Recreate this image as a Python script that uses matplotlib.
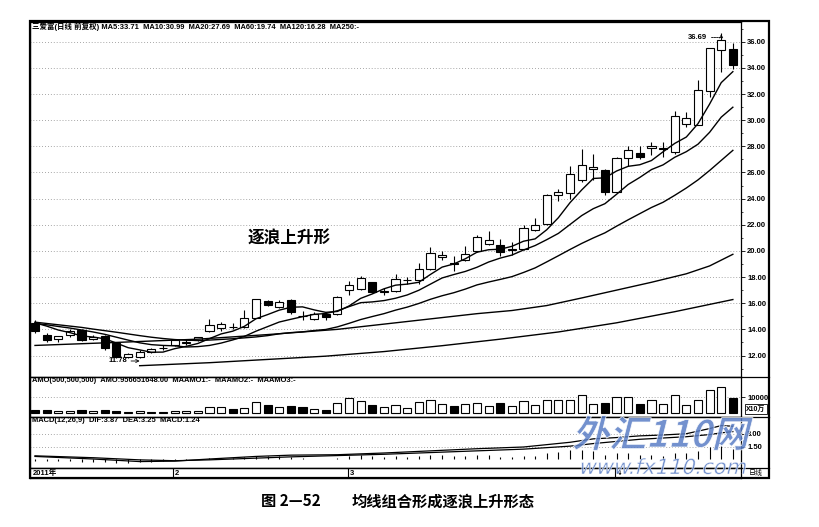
import matplotlib
matplotlib.use("Agg")
import matplotlib.pyplot as plt
import matplotlib.transforms as mtransforms
from matplotlib.lines import Line2D
from matplotlib.patches import Rectangle, PathPatch
from matplotlib.textpath import TextPath
from matplotlib.font_manager import FontProperties
import numpy as np

plt.rcParams['font.family'] = ['Liberation Sans', 'Noto Sans CJK SC', 'DejaVu Sans']

# daily candles (open, high, low, close)
opens = [14.46, 13.60, 13.23, 13.54, 13.92, 13.23, 13.46, 12.92, 11.85, 11.92,
         12.23, 12.55, 12.77, 12.95, 13.15, 13.85, 14.08, 14.20, 14.15, 14.90,
         16.15, 15.70, 16.23, 15.05, 14.80, 15.20, 15.15, 17.00, 17.10, 17.60,
         16.85, 16.90, 17.75, 17.77, 18.60, 19.50, 19.05, 19.30, 20.00, 20.50,
         20.46, 20.10, 20.15, 21.60, 22.08, 24.30, 24.40, 25.40, 26.30, 26.15,
         24.54, 27.10, 27.50, 27.85, 27.80, 27.54, 29.70, 29.60, 32.20, 35.40, 35.46]
highs = [14.70, 13.75, 13.50, 14.00, 14.00, 13.60, 13.55, 13.00, 12.20, 12.45,
         12.55, 12.80, 13.30, 13.25, 13.45, 14.77, 14.60, 14.50, 15.46, 16.35,
         16.25, 16.25, 16.30, 15.40, 15.30, 15.30, 16.55, 17.70, 18.10, 17.65,
         17.20, 18.20, 18.00, 19.10, 20.30, 20.00, 19.60, 20.40, 21.20, 21.50,
         20.90, 20.70, 22.00, 22.50, 24.35, 24.70, 26.50, 27.80, 27.40, 26.30,
         27.15, 28.00, 28.00, 28.30, 28.30, 30.70, 30.60, 33.10, 35.50, 36.69, 35.90]
lows = [13.70, 13.00, 13.00, 13.40, 13.10, 13.20, 12.45, 11.82, 11.80, 11.78,
        12.20, 12.40, 12.70, 12.80, 13.10, 13.80, 13.90, 14.00, 14.10, 14.85,
        15.80, 15.65, 15.20, 14.70, 14.70, 14.70, 15.10, 16.60, 17.00, 16.80,
        16.60, 16.85, 17.50, 17.50, 18.55, 19.30, 18.50, 19.20, 19.90, 20.45,
        19.60, 19.70, 20.10, 21.55, 22.00, 23.80, 24.00, 25.30, 25.40, 24.30,
        24.50, 26.50, 27.00, 27.30, 27.20, 27.40, 29.50, 29.60, 31.80, 33.70, 33.90]
closes = [13.85, 13.20, 13.46, 13.85, 13.15, 13.38, 12.54, 11.85, 12.10, 12.30,
          12.46, 12.60, 13.15, 13.00, 13.38, 14.30, 14.40, 14.15, 14.85, 16.30,
          15.90, 16.08, 15.30, 15.00, 15.15, 14.95, 16.46, 17.40, 17.90, 16.85,
          16.90, 17.85, 17.80, 18.60, 19.85, 19.70, 19.00, 19.80, 21.10, 20.80,
          19.90, 20.15, 21.77, 22.00, 24.30, 24.50, 25.90, 26.60, 26.40, 24.54,
          27.10, 27.70, 27.20, 28.00, 27.90, 30.30, 30.15, 32.30, 35.50, 36.10, 34.23]

# moving averages as drawn on the chart
ma5 = [14.50, 14.25, 13.95, 13.75, 13.50, 13.41, 13.28, 12.95, 12.60, 12.43,
       12.25, 12.26, 12.52, 12.70, 12.92, 13.29, 13.65, 13.86, 14.23, 14.81,
       15.13, 15.47, 15.69, 15.72, 15.49, 15.30, 15.37, 15.79, 16.37, 16.71,
       17.10, 17.38, 17.46, 17.60, 18.20, 18.76, 19.00, 19.40, 19.90, 20.09,
       20.13, 20.35, 20.74, 20.92, 21.62, 22.54, 23.69, 24.66, 25.54, 25.59,
       26.11, 26.47, 26.59, 26.91, 27.58, 28.22, 28.71, 29.73, 31.23, 32.87, 33.71]
ma10 = [14.45, 14.35, 14.22, 14.10, 13.95, 13.80, 13.62, 13.40, 13.18, 12.97,
        12.83, 12.77, 12.74, 12.65, 12.68, 12.77, 12.95, 13.19, 13.46, 13.86,
        14.21, 14.56, 14.77, 14.97, 15.15, 15.21, 15.42, 15.74, 16.04, 16.10,
        16.20, 16.38, 16.63, 16.99, 17.46, 17.93, 18.19, 18.43, 18.75, 19.15,
        19.45, 19.68, 20.07, 20.41, 20.86, 21.34, 22.02, 22.70, 23.23, 23.61,
        24.33, 25.08, 25.62, 26.22, 26.58, 27.16, 27.59, 28.16, 29.07, 30.23, 30.99]
ma20 = [14.55, 14.45, 14.35, 14.25, 14.15, 14.02, 13.90, 13.78, 13.65, 13.52,
        13.40, 13.30, 13.22, 13.17, 13.15, 13.18, 13.23, 13.28, 13.35, 13.42,
        13.52, 13.66, 13.75, 13.81, 13.91, 13.99, 14.19, 14.46, 14.75, 14.98,
        15.20, 15.47, 15.70, 15.98, 16.30, 16.57, 16.80, 17.08, 17.40, 17.62,
        17.82, 18.03, 18.35, 18.70, 19.16, 19.63, 20.11, 20.57, 20.99, 21.38,
        21.89, 22.38, 22.85, 23.32, 23.72, 24.25, 24.81, 25.43, 26.15, 26.92, 27.69]
ma60_idx = [0, 7, 14, 20, 26, 33, 38, 41, 44, 47, 50, 53, 56, 58, 60]
ma60_val = [12.77, 13.00, 13.25, 13.60, 14.00, 14.70, 15.20, 15.44, 15.82, 16.40,
            17.00, 17.60, 18.25, 18.85, 19.74]
ma120_idx = [9, 15, 20, 25, 30, 35, 40, 45, 50, 55, 60]
ma120_val = [11.22, 11.45, 11.70, 11.95, 12.30, 12.75, 13.25, 13.80, 14.50, 15.35, 16.28]

# turnover (x10万)
amo = [2000, 1700, 1000, 1500, 1700, 1200, 1700, 1000, 600, 1000,
       600, 600, 1400, 1400, 1400, 3500, 3500, 2700, 3200, 7100,
       5100, 3700, 4200, 3500, 2600, 1600, 6000, 9400, 7800, 4700,
       3500, 4800, 2900, 6600, 8300, 5600, 4200, 5600, 6500, 4200,
       6200, 4200, 7300, 5200, 7900, 7900, 7900, 11500, 5600, 6200,
       10000, 10000, 5600, 7900, 5600, 11500, 5200, 8300, 14200, 16200, 9567]

# MACD
macd_bar = [-0.15, -0.2, -0.2, -0.15, -0.25, -0.25, -0.35, -0.45, -0.4, -0.35,
            -0.3, -0.2, -0.1, -0.05, 0.02, 0.15, 0.2, 0.2, 0.25, 0.45,
            0.45, 0.45, 0.3, 0.15, 0.1, 0.05, 0.2, 0.4, 0.5, 0.35,
            0.3, 0.35, 0.3, 0.4, 0.55, 0.55, 0.4, 0.4, 0.55, 0.5,
            0.3, 0.25, 0.4, 0.45, 0.75, 0.85, 1.05, 1.1, 0.95, 0.55,
            0.75, 0.75, 0.55, 0.5, 0.45, 0.75, 0.7, 0.95, 1.4, 1.55, 1.24]
dif_idx = [0, 5, 9, 12, 15, 19, 22, 26, 30, 34, 38, 42, 46, 48, 50, 52, 54, 56, 58, 59, 60]
dif_val = [0.35, 0.05, -0.25, -0.2, 0.05, 0.35, 0.5, 0.55, 0.75, 1.0, 1.25, 1.45,
           2.0, 2.4, 2.55, 2.75, 2.85, 3.0, 3.6, 3.95, 3.87]
dea_val = [0.42, 0.2, -0.05, -0.15, -0.05, 0.15, 0.3, 0.45, 0.6, 0.8, 1.0, 1.2,
           1.55, 1.85, 2.1, 2.35, 2.5, 2.65, 2.9, 3.1, 3.25]

month_pos = [11.9, 26.9, 49.9]
month_lab = ['2', '3', '4']

W, H = 820, 527
fig = plt.figure(figsize=(8.2, 5.27), dpi=100)
L, R = 30, 741


def box(top, bottom):
    return [L / W, 1 - bottom / H, (R - L) / W, (bottom - top) / H]


ax = fig.add_axes(box(22, 377))
axv = fig.add_axes(box(377, 417), sharex=ax)
axm = fig.add_axes(box(417, 468), sharex=ax)
axd = fig.add_axes(box(468, 478), sharex=ax)

x = np.arange(len(closes))
dotted = dict(color='#8a8a8a', lw=0.6, linestyle=(0, (1, 2.5)))
tickfont = dict(fontsize=5.5, fontweight='bold')

# ---- price panel
for v in range(12, 37, 2):
    ax.axhline(v, **dotted, zorder=0)
o = np.array(opens); c = np.array(closes)
ax.vlines(x, lows, highs, color='black', lw=0.8, zorder=2)
body = np.maximum(np.abs(c - o), 0.05)
cols = ['black' if cc < oo else 'white' for oo, cc in zip(o, c)]
ax.bar(x, body, bottom=np.minimum(o, c), width=0.7, color=cols,
       edgecolor='black', linewidth=0.8, zorder=3)
for ma in (ma5, ma10, ma20):
    ax.plot(x, ma, color='black', lw=1.0, zorder=4)
ax.plot(ma60_idx, ma60_val, color='black', lw=1.0, zorder=4)
ax.plot(ma120_idx, ma120_val, color='black', lw=1.0, zorder=4)

ax.annotate('36.69', xy=(59, 36.69), xytext=(57.8, 36.35), ha='right', va='center',
            fontsize=5.5, fontweight='bold',
            arrowprops=dict(arrowstyle='->', lw=0.6, color='black',
                            connectionstyle='angle,angleA=0,angleB=90,rad=0',
                            shrinkA=1, shrinkB=1, linestyle=(0, (2, 1))))
ax.annotate('11.78', xy=(9.0, 11.58), xytext=(7.9, 11.58), ha='right', va='center',
            fontsize=5.5, fontweight='bold',
            arrowprops=dict(arrowstyle='->', lw=0.6, color='black', shrinkA=1, shrinkB=0))

ax.set_ylim(10.356, 37.507)
ax.set_xlim(-0.43, 60.7)
ax.yaxis.tick_right()
ax.set_yticks(np.arange(12, 37, 2))
ax.set_yticklabels([f'{v:.2f}' for v in range(12, 37, 2)], **tickfont)
ax.set_yticks(np.arange(11, 38, 1), minor=True)

# ---- turnover panel
axv.axhline(10000, **dotted, zorder=0)
vcols = ['black' if cc < oo else 'white' for oo, cc in zip(o, c)]
axv.bar(x, amo, width=0.7, color=vcols, edgecolor='black', linewidth=0.8)
axv.set_ylim(-2500, 22500)
axv.yaxis.tick_right()
axv.set_yticks([10000])
axv.set_yticklabels(['10000'], **tickfont)

# ---- MACD panel
for v in (1.5, 3.0):
    axm.axhline(v, **dotted, zorder=0)
axm.vlines(x, 0, macd_bar, color='black', lw=0.8)
axm.plot(dif_idx, dif_val, color='black', lw=0.9)
axm.plot(dif_idx, dea_val, color='black', lw=0.9)
axm.set_ylim(-1.0, 4.95)
axm.yaxis.tick_right()
axm.set_yticks([1.5, 3.0])
axm.set_yticklabels(['1.50', '3.00'], **tickfont)

# ---- date strip
axd.set_ylim(0, 1)
for p, lab in zip(month_pos, month_lab):
    axd.axvline(p, color='black', lw=0.8)
    axd.text(p + 0.15, 0.45, lab, fontsize=5.5, fontweight='bold', va='center')
axd.text(-0.2, 0.45, '2011年', fontsize=5.5, fontweight='bold', va='center')
axd.set_yticks([])

for a in (ax, axv, axm, axd):
    a.tick_params(axis='x', which='both', bottom=False, labelbottom=False)
    a.tick_params(axis='y', which='major', length=3, width=0.6, pad=1.5, direction='out')
    a.tick_params(axis='y', which='minor', length=1.5, width=0.5, direction='out')
    for s in a.spines.values():
        s.set_linewidth(0.9)

# ---- frame and separators
fig.add_artist(Rectangle((L / W, 1 - 478 / H), (769 - L) / W, (478 - 21) / H,
                         transform=fig.transFigure, fill=False, lw=1.6, ec='black'))
for yy in (377, 417, 468):
    fig.add_artist(Line2D([L / W, 769 / W], [1 - yy / H] * 2, transform=fig.transFigure,
                          color='black', lw=0.9))

# ---- panel texts
fig.text(32 / W, 1 - 27 / H,
         '三爱富(日线 前复权) MA5:33.71  MA10:30.99  MA20:27.69  MA60:19.74  MA120:16.28  MA250:-',
         fontsize=5.4, fontweight='bold', va='center')
fig.text(32 / W, 1 - 381 / H,
         'AMO(500,500,500)  AMO:956651648.00  MAAMO1:-  MAAMO2:-  MAAMO3:-',
         fontsize=5.4, fontweight='bold', va='center')
fig.text(32 / W, 1 - 421 / H, 'MACD(12,26,9)  DIF:3.87  DEA:3.25  MACD:1.24',
         fontsize=5.4, fontweight='bold', va='center')
fig.text(756 / W, 1 - 409 / H, 'X10万', fontsize=5, fontweight='bold', ha='center', va='center',
         bbox=dict(boxstyle='square,pad=0.15', fc='white', ec='black', lw=0.6))
fig.text(756 / W, 1 - 473 / H, '日线', fontsize=5, ha='center', va='center',
         family=['Noto Sans CJK SC'])
fig.text(248 / W, 1 - 238 / H, '逐浪上升形', fontsize=12, fontweight='bold', va='center',
         family=['Noto Sans CJK SC'])

# ---- watermark
wm = '#5a7ec6'
tp = TextPath((0, 0), '外汇110网', size=37, prop=FontProperties(family='Noto Sans CJK SC', weight='bold'))
tr = mtransforms.Affine2D().skew_deg(14, 0).translate(572, H - 447)
fig.add_artist(PathPatch(tp, transform=tr, fc=wm, ec='white', lw=0.6, alpha=0.85, zorder=10))
tp2 = TextPath((0, 0), 'www.fx110.com', size=21, prop=FontProperties(family='DejaVu Sans'))
tr2 = mtransforms.Affine2D().skew_deg(14, 0).translate(578, H - 474)
fig.add_artist(PathPatch(tp2, transform=tr2, fc=wm, ec='white', lw=0.4, alpha=0.85, zorder=10))

# ---- caption
fig.text(261 / W, 1 - 501 / H, '图 2—52', fontsize=11, fontweight='bold', va='center',
         family=['Noto Sans CJK SC'])
fig.text(352 / W, 1 - 501 / H, '均线组合形成逐浪上升形态', fontsize=11, fontweight='bold',
         va='center', family=['Noto Sans CJK SC'])

fig.savefig('out.png', dpi=100, facecolor='white')
